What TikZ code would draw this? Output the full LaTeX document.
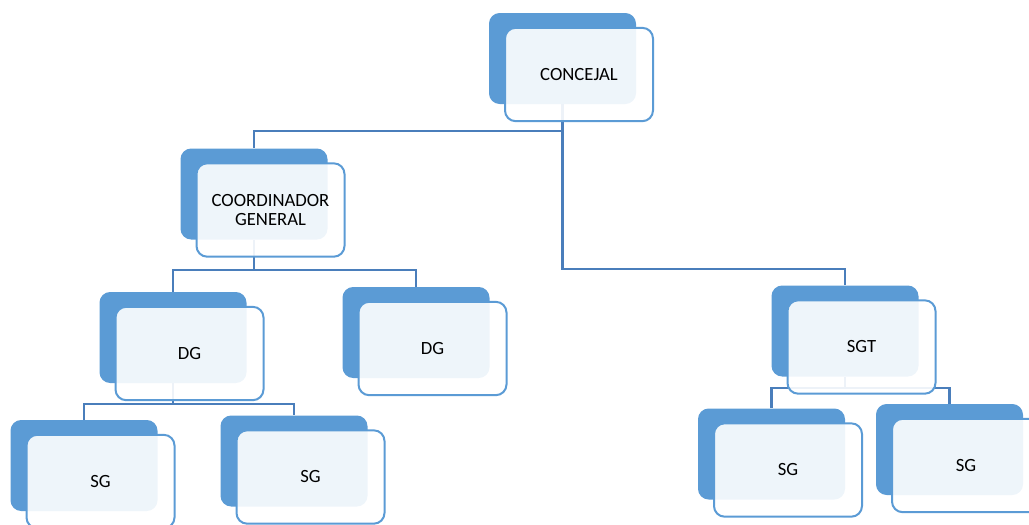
\documentclass[tikz,border=0pt]{standalone}
\usepackage{fontspec}
\setmainfont{Carlito}
\usepackage{tikz}
\usetikzlibrary{calc}
\definecolor{officeblue}{HTML}{5B9BD5}
\definecolor{linkblue}{HTML}{4A7EBB}
\tikzstyle{backbox}=[rectangle,rounded corners=8pt,fill=officeblue,minimum width=110.25pt,minimum height=68.25pt,inner sep=0pt]
\tikzstyle{frontbox}=[rectangle,rounded corners=8pt,draw=officeblue,line width=1.5pt,fill=white,fill opacity=0.9,text opacity=1,minimum width=111pt,minimum height=70pt,inner sep=0pt,align=center,font=\fontsize{14}{14.5}\selectfont]
\tikzstyle{link} = [draw,line width=1.8pt,linkblue]

\begin{document}
\begin{tikzpicture}[x=0.75pt,y=-0.75pt]
    \useasboundingbox (0,0) rectangle (1029,525);

    % back boxes
    \foreach \pos/ \name in {{(562.5,58.5)/concejal},{(254,194)/coord},{(173,337.5)/dga},{(416,332.5)/dgb},
        {(84,465.5)/sga},{(294,461)/sgb},{(845,331)/sgt},{(771.5,454)/sgc},{(949.5,449.5)/sgd}}
        \node[backbox] (b-\name) at \pos {};

    % bus heights
    \coordinate (bus1) at (0,131);
    \coordinate (bus2) at (0,269);
    \coordinate (bus3) at (0,270);
    \coordinate (bus4) at (0,404);
    \coordinate (bus5) at (0,388);

    % Connect boxes
    \foreach \source/ \dest/ \bus in {concejal/coord/bus1, concejal/sgt/bus2, coord/dga/bus3, coord/dgb/bus3,
        dga/sga/bus4, dga/sgb/bus4, sgt/sgc/bus5, sgt/sgd/bus5}
        \path[link] (b-\source.south) |- (b-\dest.north |- \bus) -- (b-\dest.north);

    % front boxes with labels
    \foreach \name/ \label in {concejal/CONCEJAL, coord/{COORDINADOR\\GENERAL}, dga/DG, dgb/DG,
        sga/SG, sgb/SG, sgt/SGT, sgc/SG, sgd/SG}
        \node[frontbox] (\name) at ($(b-\name)+(16.5,16)$) {\label};

\end{tikzpicture}
\end{document}
